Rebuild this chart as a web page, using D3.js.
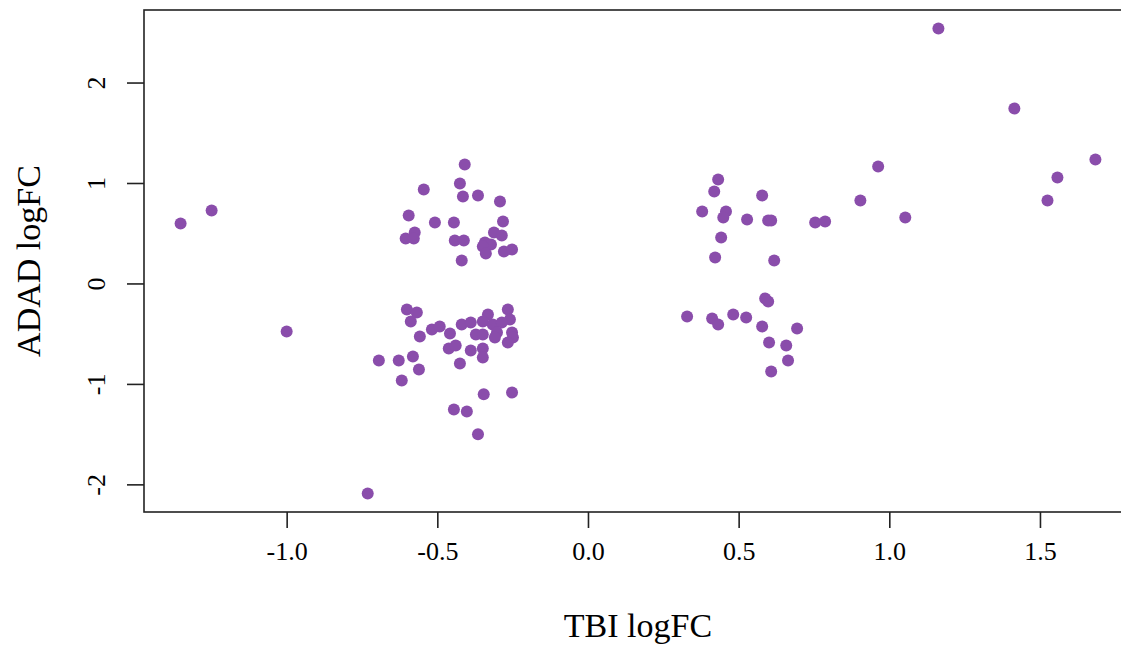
<!DOCTYPE html>
<html>
<head>
<meta charset="utf-8">
<script src="https://cdn.jsdelivr.net/npm/d3@7"></script>
<style>
  html, body { margin: 0; padding: 0; background: #fff; }
  svg text { font-family: "Liberation Serif", "DejaVu Serif", serif; fill: #000; }
</style>
</head>
<body>
<div id="chart"></div>
<script>
// TBI logFC (x) and ADAD logFC (y), one entry per point
const tbiLogFC = [
  -0.409, -0.545, -0.425, -0.415, -0.365, -0.292, -0.595, -0.508, -0.445, -0.282,
  -0.575, -0.605, -0.578, -0.442, -0.412, -0.312, -0.286, -0.342, -0.322, -0.349,
  -0.339, -0.279, -0.252, -0.419,
  -0.601, -0.568, -0.588, -0.558, -0.518, -0.492, -0.458, -0.419, -0.389, -0.372,
  -0.349, -0.462, -0.439, -0.389, -0.349, -0.349, -0.425, -0.694, -0.628, -0.581,
  -0.561, -0.618, -0.346, -0.252, -0.445, -0.402, -0.365, -0.731, -1.000, -0.332,
  -0.266, -0.259, -0.349, -0.316, -0.286, -0.252, -0.302, -0.309, -0.249, -0.266,
  0.432, 0.419, 0.578, 0.379, 0.458, 0.449, 0.528, 0.598, 0.608, 0.754,
  0.787, 0.442, 0.422, 0.618,
  0.588, 0.598, 0.329, 0.412, 0.432, 0.482, 0.525, 0.578, 0.694, 0.601,
  0.658, 0.664, 0.608,
  1.163, 1.415, 0.963, 0.904, 1.053, 1.525, 1.558, 1.684,
  -1.352, -1.249
]
const adadLogFC = [
  1.184, 0.935, 0.995, 0.866, 0.876, 0.816, 0.677, 0.607, 0.607, 0.617,
  0.507, 0.448, 0.448, 0.428, 0.428, 0.507, 0.478, 0.408, 0.388, 0.368,
  0.299, 0.318, 0.338, 0.229,
  -0.259, -0.289, -0.378, -0.527, -0.458, -0.428, -0.498, -0.408, -0.388, -0.507,
  -0.507, -0.647, -0.617, -0.667, -0.647, -0.736, -0.796, -0.766, -0.766, -0.726,
  -0.856, -0.965, -1.104, -1.085, -1.254, -1.274, -1.502, -2.090, -0.478, -0.308,
  -0.259, -0.358, -0.378, -0.408, -0.388, -0.488, -0.488, -0.537, -0.537, -0.587,
  1.035, 0.915, 0.876, 0.716, 0.716, 0.657, 0.637, 0.627, 0.627, 0.607,
  0.617, 0.458, 0.259, 0.229,
  -0.149, -0.179, -0.328, -0.348, -0.408, -0.308, -0.338, -0.428, -0.448, -0.587,
  -0.617, -0.766, -0.876,
  2.537, 1.741, 1.164, 0.826, 0.657, 0.826, 1.055, 1.234,
  0.597, 0.726
]
const xTicks = [-1.0, -0.5, 0.0, 0.5, 1.0, 1.5]
const yTicks = [-2, -1, 0, 1, 2]

const width = 1121
const height = 645
const margin = {top: 10, right: -11, bottom: 133, left: 144}
const plotW = width - margin.left - margin.right
const plotH = height - margin.top - margin.bottom

// R style: pad the data range by 4% on each side
function padded(values) {
  const [lo, hi] = d3.extent(values)
  const pad = (hi - lo) * 0.04
  return [lo - pad, hi + pad]
}

const x = d3.scaleLinear().domain(padded(tbiLogFC)).range([0, plotW])
const y = d3.scaleLinear().domain(padded(adadLogFC)).range([plotH, 0])

const svg = d3.select('#chart').append('svg')
  .attr('width', width)
  .attr('height', height)

const g = svg.append('g')
  .attr('transform', `translate(${margin.left}, ${margin.top})`)

// points
const points = tbiLogFC.map((d, i) => ({x: d, y: adadLogFC[i]}))
g.append('g')
  .selectAll('circle')
  .data(points)
  .enter()
  .append('circle')
  .attr('cx', d => x(d.x))
  .attr('cy', d => y(d.y))
  .attr('r', 6)
  .attr('fill', '#8a4dab')

// box
g.append('rect')
  .attr('x', 0)
  .attr('y', 0)
  .attr('width', plotW)
  .attr('height', plotH)
  .attr('fill', 'none')
  .attr('stroke', '#222')
  .attr('stroke-width', 1.6)

// x axis
const xAxis = g.append('g')
  .attr('transform', `translate(0, ${plotH})`)
  .call(d3.axisBottom(x).tickValues(xTicks).tickFormat(d3.format('.1f')).tickSize(16).tickPadding(14))
xAxis.select('.domain').remove()
xAxis.selectAll('line').attr('stroke', '#222').attr('stroke-width', 1.6)
xAxis.selectAll('text')
  .attr('font-size', 26)
  .style('font-family', '"Liberation Serif", serif')
  .text(d => d3.format('.1f')(d).replace('−', '-'))

// y axis, labels rotated like R's default
const yAxis = g.append('g')
  .call(d3.axisLeft(y).tickValues(yTicks).tickSize(17).tickFormat(d => String(d)))
yAxis.select('.domain').remove()
yAxis.selectAll('line').attr('stroke', '#222').attr('stroke-width', 1.6)
yAxis.selectAll('text')
  .attr('font-size', 26)
  .style('font-family', '"Liberation Serif", serif')
  .attr('x', null)
  .attr('dy', null)
  .attr('transform', 'translate(-48, 0) rotate(-90)')
  .attr('text-anchor', 'middle')
  .attr('dominant-baseline', 'central')

// axis titles
svg.append('text')
  .attr('x', margin.left + plotW / 2)
  .attr('y', 637)
  .attr('text-anchor', 'middle')
  .attr('font-size', 34)
  .text('TBI logFC')

svg.append('text')
  .attr('transform', `translate(40, ${margin.top + plotH / 2}) rotate(-90)`)
  .attr('text-anchor', 'middle')
  .attr('font-size', 34)
  .text('ADAD logFC')
</script>
</body>
</html>
